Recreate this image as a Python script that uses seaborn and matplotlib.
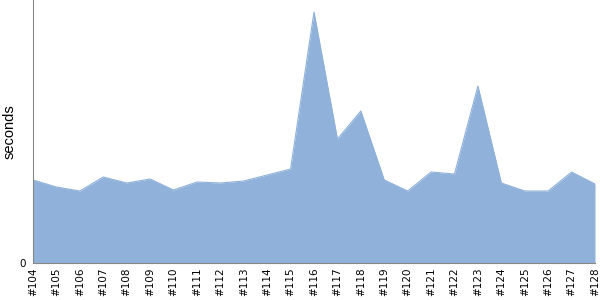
import matplotlib
matplotlib.use("Agg")
import matplotlib.pyplot as plt
import seaborn as sns
import pandas as pd

builds = ["#104", "#105", "#106", "#107", "#108", "#109", "#110", "#111", "#112",
          "#113", "#114", "#115", "#116", "#117", "#118", "#119", "#120", "#121",
          "#122", "#123", "#124", "#125", "#126", "#127", "#128"]
seconds = [83, 76, 72, 86, 80, 84, 73, 81, 80, 82, 88, 94, 251, 124, 152, 83,
           72, 91, 89, 177, 80, 72, 72, 91, 79]

df = pd.DataFrame({"build": builds, "seconds": seconds})
df["pos"] = range(len(df))

sns.set_style("white")
fig = plt.figure(figsize=(6, 3), dpi=100)
ax = fig.add_axes([33/600, 37/300, 562/600, 263/300])

sns.lineplot(data=df, x="pos", y="seconds", ax=ax, color="#8fb1da", linewidth=0.8)
ax.fill_between(df["pos"], df["seconds"], 0, color="#8fb1da", linewidth=0)

ax.set_xlim(0, len(df) - 1)
ax.set_ylim(0, 263)
ax.set_xticks(df["pos"])
ax.set_xticklabels(df["build"], rotation=90, fontsize=7.5, color="black",
                   family="DejaVu Sans")
ax.set_yticks([0])
ax.set_yticklabels(["0"], fontsize=7.5, color="black", family="DejaVu Sans")
ax.set_xlabel("")
ax.set_ylabel("seconds", fontsize=10.5, color="black", family="Liberation Sans", labelpad=2)
ax.tick_params(axis="x", length=0, pad=3)
ax.tick_params(axis="y", length=3, pad=2, color="#888888")
for s in ["top", "right"]:
    ax.spines[s].set_visible(False)
for s in ["left", "bottom"]:
    ax.spines[s].set_color("#888888")
    ax.spines[s].set_linewidth(0.8)

fig.savefig("out.png", dpi=100)
